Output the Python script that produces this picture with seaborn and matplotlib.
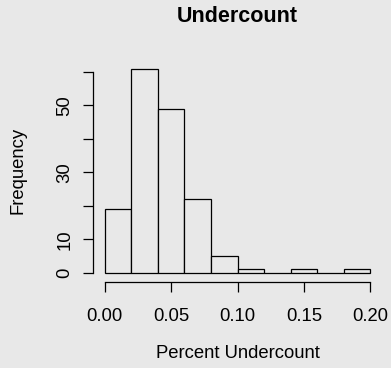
import matplotlib
matplotlib.use("Agg")
import matplotlib.pyplot as plt
import numpy as np
import seaborn as sns

bin_edges = [0.00, 0.02, 0.04, 0.06, 0.08, 0.10, 0.12, 0.14, 0.16, 0.18, 0.20]
counts = [19, 61, 49, 22, 5, 1, 0, 1, 0, 1]
x_ticks = [0.00, 0.05, 0.10, 0.15, 0.20]
x_tick_labels = ["0.00", "0.05", "0.10", "0.15", "0.20"]
y_ticks = [0, 10, 20, 30, 40, 50, 60]
y_tick_labels = ["0", "10", "", "30", "", "50", ""]

bg = "#e8e8e8"
sns.set_style("ticks", {"axes.facecolor": bg, "figure.facecolor": bg})
plt.rcParams["font.family"] = ["Liberation Sans", "DejaVu Sans"]
plt.rcParams["text.color"] = "black"
plt.rcParams["axes.labelcolor"] = "black"
plt.rcParams["xtick.color"] = "black"
plt.rcParams["ytick.color"] = "black"

fig = plt.figure(figsize=(3.91, 3.68), dpi=100)
ax = fig.add_axes([94 / 391, 87 / 368, 287 / 391, 220.5 / 368])

mids = [(a + b) / 2 for a, b in zip(bin_edges[:-1], bin_edges[1:])]
sns.histplot(x=mids, weights=counts, bins=bin_edges, ax=ax,
             color=bg, edgecolor="black", linewidth=0.9, alpha=1)

ax.set_xlim(-0.008, 0.208)
ax.set_ylim(-2.44, 63.44)
for s in ["top", "right"]:
    ax.spines[s].set_visible(False)
ax.spines["left"].set_bounds(0, 60)
ax.spines["bottom"].set_bounds(0, 0.2)
ax.spines["left"].set_position(("outward", 1))
ax.spines["bottom"].set_position(("outward", 1))
for s in ["left", "bottom"]:
    ax.spines[s].set_linewidth(0.9)
    ax.spines[s].set_color("black")

ax.set_xticks(x_ticks)
ax.set_xticklabels(x_tick_labels, fontsize=13.3)
ax.set_yticks(y_ticks)
ax.set_yticklabels(y_tick_labels, fontsize=13.3, rotation=90, va="center")
ax.tick_params(axis="both", direction="out", length=7, width=0.9)
ax.tick_params(axis="x", pad=11.5)
ax.tick_params(axis="y", pad=7)

ax.set_xlabel("Percent Undercount", fontsize=13.3, va="center")
ax.xaxis.set_label_coords(0.5, -(353 - 281) / 220.5)
ax.set_ylabel("Frequency", fontsize=13.3, va="center")
ax.yaxis.set_label_coords((18 - 94) / 287, 0.5)
fig.text((94 + 287 / 2) / 391, 1 - 16 / 368, "Undercount", fontsize=15.5,
         fontweight="bold", ha="center", va="center")

fig.savefig("out.png", dpi=100, facecolor=bg)
